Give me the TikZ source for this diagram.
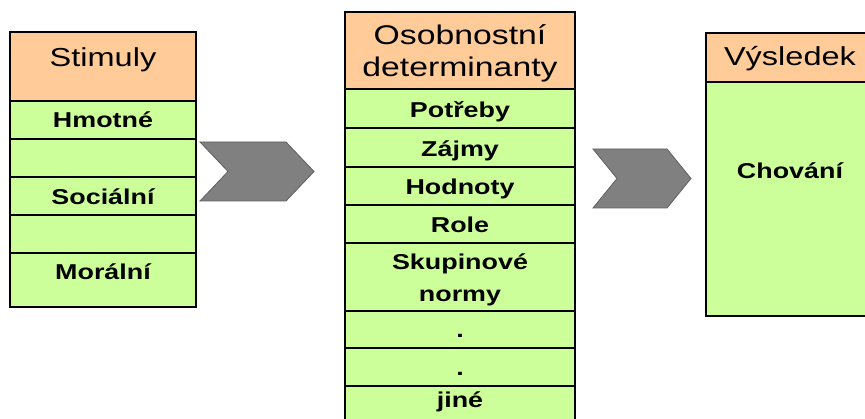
\documentclass[tikz,border=0pt]{standalone}
\usepackage{fontspec}
\setmainfont{Liberation Sans}
\definecolor{peach}{HTML}{FFCC99}
\definecolor{lime}{HTML}{CCFF99}
\definecolor{chev}{HTML}{808080}
\definecolor{chevline}{HTML}{5F5F5F}
\newcommand\widetext[1]{\scalebox{1.25}[1]{#1}}
\tikzset{
  cell/.style={draw=black, line width=1.2pt, anchor=north west, inner sep=0pt, outer sep=0pt},
  headcell/.style={cell, fill=peach},
  rowcell/.style={cell, fill=lime},
  frame/.style={draw=black, line width=2.4pt},
  headtext/.style={anchor=base, inner sep=0pt, font=\fontsize{26}{30}\selectfont},
  bighead/.style={headtext, font=\fontsize{27}{30}\selectfont},
  rowtext/.style={anchor=base, inner sep=0pt, font=\fontsize{21.5}{24}\selectfont\bfseries},
  chevron/.style={fill=chev, draw=chevline, line width=0.8pt, line join=miter}
}
\begin{document}
\begin{tikzpicture}[x=1pt,y=-1pt]
\useasboundingbox (0,0) rectangle (865,419);
\clip (0,0) rectangle (865,419);

% Column 1: Stimuly
\node[headcell, minimum width=186pt, minimum height=69pt] (sh) at (10,32) {};
\node[rowcell, minimum width=186pt, minimum height=38pt] (s1) at (10,101) {};
\node[rowcell, minimum width=186pt, minimum height=38pt] (s2) at (10,139) {};
\node[rowcell, minimum width=186pt, minimum height=38pt] (s3) at (10,177) {};
\node[rowcell, minimum width=186pt, minimum height=38pt] (s4) at (10,215) {};
\node[rowcell, minimum width=186pt, minimum height=54pt] (s5) at (10,253) {};
\draw[frame] (sh.north west) rectangle (s5.south east);
\node[headtext] (tsh) at (103,67) {\widetext{Stimuly}};
\node[rowtext] (ts1) at (103,128) {\widetext{Hmotné}};
\node[rowtext] (ts3) at (103,205) {\widetext{Sociální}};
\node[rowtext] (ts5) at (103,280) {\widetext{Morální}};

% Column 2: Osobnostní determinanty
\node[headcell, minimum width=230pt, minimum height=77pt] (dh) at (345,12) {};
\node[rowcell, minimum width=230pt, minimum height=39pt] (d1) at (345,89) {};
\node[rowcell, minimum width=230pt, minimum height=39pt] (d2) at (345,128) {};
\node[rowcell, minimum width=230pt, minimum height=38pt] (d3) at (345,167) {};
\node[rowcell, minimum width=230pt, minimum height=38pt] (d4) at (345,205) {};
\node[rowcell, minimum width=230pt, minimum height=68pt] (d5) at (345,243) {};
\node[rowcell, minimum width=230pt, minimum height=37pt] (d6) at (345,311) {};
\node[rowcell, minimum width=230pt, minimum height=38pt] (d7) at (345,348) {};
\node[rowcell, minimum width=230pt, minimum height=38pt] (d8) at (345,386) {};
\draw[frame] (dh.north west) rectangle (d8.south east);
\node[bighead] (tdh1) at (460,45) {\widetext{Osobnostní}};
\node[bighead] (tdh2) at (460,77) {\widetext{determinanty}};
\node[rowtext] (td1) at (460,118) {\widetext{Potřeby}};
\node[rowtext] (td2) at (460,157) {\widetext{Zájmy}};
\node[rowtext] (td3) at (460,195) {\widetext{Hodnoty}};
\node[rowtext] (td4) at (460,233) {\widetext{Role}};
\node[rowtext] (td5a) at (460,270) {\widetext{Skupinové}};
\node[rowtext] (td5b) at (460,302) {\widetext{normy}};
\node[rowtext] (td6) at (460,338) {\widetext{.}};
\node[rowtext] (td7) at (460,376) {\widetext{.}};
\node[rowtext] (td8) at (460,408) {\widetext{jiné}};

% Column 3: Výsledek
\node[headcell, minimum width=168pt, minimum height=49pt] (vh) at (706,33) {};
\node[rowcell, minimum width=168pt, minimum height=234pt] (v1) at (706,82) {};
\draw[frame] (vh.north west) rectangle (v1.south east);
\node[headtext] (tvh) at (790,66) {\widetext{Výsledek}};
\node[rowtext] (tv1) at (790,179) {\widetext{Chování}};

% Chevron arrows between the columns
\draw[chevron] (200,142) -- (286,142) -- (314,171.5) -- (286,201) -- (200,201) -- (228,171.5) -- cycle;
\draw[chevron] (593,149) -- (667,149) -- (691,178.5) -- (667,208) -- (593,208) -- (617,178.5) -- cycle;
\end{tikzpicture}
\end{document}
